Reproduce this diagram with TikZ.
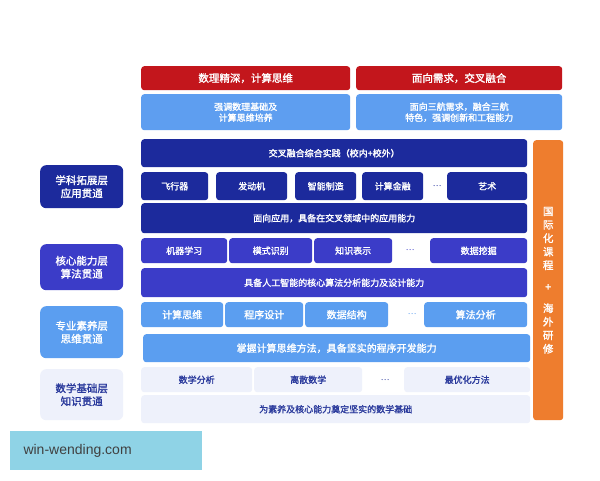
\documentclass[tikz,border=0pt]{standalone}
\usepackage{fontspec}
\setmainfont{Noto Sans CJK SC}
\newfontfamily\cjkb{Noto Sans CJK SC}[FakeBold=1.5]
\setsansfont{Liberation Sans}
\definecolor{cred}{HTML}{C3161C}
\definecolor{clb}{HTML}{5E9EF0}
\definecolor{cnavy}{HTML}{1C2A9C}
\definecolor{ccore}{HTML}{3B3CC8}
\definecolor{cprof}{HTML}{5B9EF0}
\definecolor{cmath}{HTML}{EEF1FB}
\definecolor{cmtxt}{HTML}{2A3A9C}
\definecolor{corange}{HTML}{EE7D2E}
\definecolor{cwm}{HTML}{8FD3E6}
\tikzset{
 bx/.style={rounded corners=3pt,inner sep=0pt,anchor=north west,align=center,font=\cjkb\fontsize{9}{11}\selectfont},
 redb/.style={bx,fill=cred,text=white,font=\cjkb\fontsize{10.5}{12}\selectfont},
 lbb/.style={bx,fill=clb,text=white},
 navb/.style={bx,fill=cnavy,text=white},
 coreb/.style={bx,fill=ccore,text=white},
 profb/.style={bx,fill=cprof,text=white,font=\cjkb\fontsize{10}{12}\selectfont},
 mathb/.style={bx,fill=cmath,text=cmtxt},
 lab/.style={bx,rounded corners=6pt,font=\cjkb\fontsize{10.5}{13}\selectfont},
 dots/.style={font=\fontsize{8}{10}\selectfont}
}
\newcommand{\bxx}[7]{\node[#2,minimum width={(#5-#3)*1pt},minimum height={(#6-#4)*1pt}] (#1) at (#3,#4) {#7};}
\begin{document}
\begin{tikzpicture}[x=1pt,y=-1pt]
\fill[white] (0,0) rectangle (600,480);
\bxx{r1}{redb}{141}{66}{350}{90}{数理精深，计算思维}
\bxx{r2}{redb}{356}{66}{562}{90}{面向需求，交叉融合}
\bxx{l1}{lbb}{141}{94}{350}{130}{强调数理基础及\\计算思维培养}
\bxx{l2}{lbb}{356}{94}{562}{130}{面向三航需求，融合三航\\特色，强调创新和工程能力}
\bxx{or}{bx,fill=corange,text=white,font=\cjkb\fontsize{10.5}{13.5}\selectfont}{533}{140}{563}{420}{国\\际\\化\\课\\程\\[8pt]+\\[8pt]海\\外\\研\\修}
\bxx{a1}{navb}{141}{139}{527}{167}{交叉融合综合实践（校内+校外）}
\bxx{a2}{navb}{141}{172}{208}{200}{飞行器}
\bxx{a3}{navb}{216}{172}{287}{200}{发动机}
\bxx{a4}{navb}{295}{172}{356}{200}{智能制造}
\bxx{a5}{navb}{362}{172}{423}{200}{计算金融}
\node[dots,text=cnavy] (ad) at (437,186) {…};
\bxx{a6}{navb}{447}{172}{527}{200}{艺术}
\bxx{a7}{navb}{141}{203}{527}{233}{面向应用，具备在交叉领域中的应用能力}
\bxx{la}{lab,fill=cnavy,text=white}{40}{165}{123}{208}{学科拓展层\\应用贯通}
\bxx{b1}{coreb}{141}{238}{227}{263}{机器学习}
\bxx{b2}{coreb}{229}{238}{312}{263}{模式识别}
\bxx{b3}{coreb}{314}{238}{392}{263}{知识表示}
\node[dots,text=ccore] (bd) at (410,250) {…};
\bxx{b4}{coreb}{430}{238}{527}{263}{数据挖掘}
\bxx{b5}{coreb}{141}{268}{527}{297}{具备人工智能的核心算法分析能力及设计能力}
\bxx{lb}{lab,fill=ccore,text=white}{40}{244}{123}{290}{核心能力层\\算法贯通}
\bxx{c1}{profb}{141}{302}{223}{327}{计算思维}
\bxx{c2}{profb}{225}{302}{303}{327}{程序设计}
\bxx{c3}{profb}{305}{302}{388}{327}{数据结构}
\node[dots,text=cprof] (cd) at (412,314) {…};
\bxx{c4}{profb}{424}{302}{527}{327}{算法分析}
\bxx{c5}{profb}{143}{334}{530}{362}{掌握计算思维方法，具备坚实的程序开发能力}
\bxx{lc}{lab,fill=cprof,text=white}{40}{306}{123}{358}{专业素养层\\思维贯通}
\bxx{d1}{mathb}{141}{367}{252}{392}{数学分析}
\bxx{d2}{mathb}{254}{367}{362}{392}{离散数学}
\node[dots,text=cmtxt] (dd) at (385,380) {…};
\bxx{d3}{mathb}{404}{367}{530}{392}{最优化方法}
\bxx{d4}{mathb}{141}{395}{530}{423}{为素养及核心能力奠定坚实的数学基础}
\bxx{ld}{lab,fill=cmath,text=cmtxt}{40}{369}{123}{420}{数学基础层\\知识贯通}
\node[anchor=north west,fill=cwm,minimum width=192pt,minimum height=39pt,inner sep=0pt] (wm) at (10,431) {};
\node[anchor=west,font=\sffamily\fontsize{14}{16}\selectfont,text=black!75] (wmt) at (20,450.5) {win-wending.com};
\end{tikzpicture}
\end{document}
